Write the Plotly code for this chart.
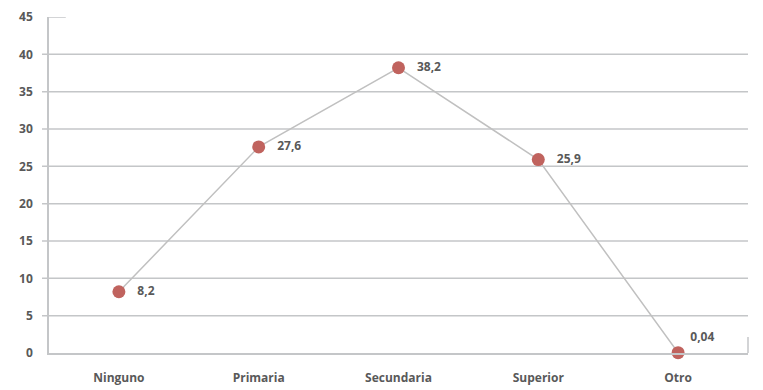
import plotly.graph_objects as go

CATEGORIES = ["Ninguno", "Primaria", "Secundaria", "Superior", "Otro"]
VALUES = [8.2, 27.6, 38.2, 25.9, 0.04]
LABELS = ["8,2", "27,6", "38,2", "25,9", "0,04"]
GRID_VALUES = [5, 10, 15, 20, 25, 30, 35, 40]

FONT = "Open Sans"
TEXT_COLOR = "#595959"
GRID_COLOR = "#c4c6c8"
LINE_COLOR = "#c0c0c0"
MARKER_COLOR = "#c0635e"

fig = go.Figure()

fig.add_trace(
    go.Scatter(
        x=CATEGORIES,
        y=VALUES,
        mode="lines+markers+text",
        text=["   " + t for t in LABELS[:4]] + [" " + LABELS[4]],
        textposition=["middle right"] * 4 + ["top right"],
        textfont=dict(family=FONT, size=12, color=TEXT_COLOR, weight="bold"),
        line=dict(color=LINE_COLOR, width=1.5),
        marker=dict(color=MARKER_COLOR, size=13),
        cliponaxis=False,
        hoverinfo="skip",
        showlegend=False,
    )
)

shapes = []
# horizontal grid lines (with short outside tick)
for v in GRID_VALUES:
    shapes.append(
        dict(
            type="line", xref="x domain", yref="y",
            x0=-0.01, x1=1, y0=v, y1=v,
            line=dict(color=GRID_COLOR, width=1.5), layer="below",
        )
    )
# short stub at the top of the axis
shapes.append(
    dict(
        type="line", xref="x domain", yref="y",
        x0=0, x1=0.024, y0=45, y1=45,
        line=dict(color=GRID_COLOR, width=1.5), layer="below",
    )
)
# small end tick at the right end of the category axis
shapes.append(
    dict(
        type="line", xref="x domain", yref="y", ysizemode="pixel", yanchor=0,
        x0=1, x1=1, y0=0, y1=16,
        line=dict(color=GRID_COLOR, width=1.5), layer="below",
    )
)

# page body keeps its default 8px margin, so the figure is 8px smaller
fig.update_layout(
    width=755,
    height=382,
    margin=dict(l=41, r=15, t=9, b=37),
    paper_bgcolor="white",
    plot_bgcolor="white",
    font=dict(family=FONT, size=12, color=TEXT_COLOR),
    shapes=shapes,
    xaxis=dict(
        range=[-0.5, 4.5],
        automargin=False,
        showgrid=False,
        showline=True,
        linecolor=GRID_COLOR,
        linewidth=1.5,
        ticks="",
        ticklabelstandoff=13,
        tickfont=dict(family=FONT, size=12, color=TEXT_COLOR, weight="bold"),
        zeroline=False,
    ),
    yaxis=dict(
        range=[0, 45],
        dtick=5,
        automargin=False,
        showgrid=False,
        showline=True,
        linecolor=GRID_COLOR,
        linewidth=1.5,
        ticks="",
        ticklabelstandoff=12,
        tickfont=dict(family=FONT, size=12, color=TEXT_COLOR, weight="bold"),
        zeroline=False,
    ),
)

fig.write_html("out.html")
